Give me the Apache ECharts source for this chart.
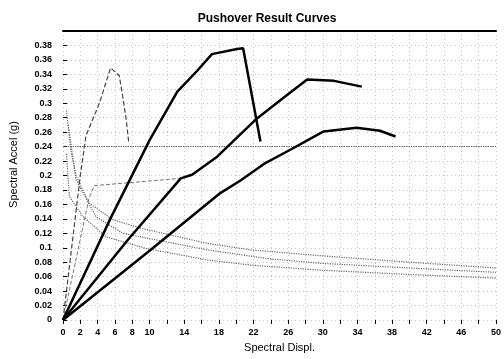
<!DOCTYPE html>
<html>
<head>
<meta charset="utf-8">
<script src="https://cdn.jsdelivr.net/npm/echarts@6/dist/echarts.min.js"></script>
<style>html,body{margin:0;padding:0;background:#fff}#c{width:504px;height:359px}</style>
</head>
<body>
<div id="c"></div>
<script>
// Thick capacity curves [displ, accel]
const curveA = [[0,0],[5.5,0.141],[7.8,0.196],[10,0.249],[13.2,0.316],[15.5,0.345],[17.2,0.368],[20.1,0.375],[20.8,0.376],[22.8,0.247]];
const curveB = [[0,0],[7.5,0.111],[13.6,0.196],[14.9,0.201],[17.8,0.226],[22.4,0.279],[25.5,0.308],[28.2,0.333],[31.3,0.331],[34.5,0.323]];
const curveC = [[0,0],[10.1,0.097],[18.2,0.176],[20.5,0.193],[23.2,0.216],[26.3,0.236],[30.1,0.261],[33.9,0.266],[36.6,0.262],[38.4,0.254]];
// Thin dashed capacity curves
const curveD = [[0,0],[1.2,0.12],[2,0.2],[2.65,0.255],[4.2,0.30],[5.5,0.349],[6.5,0.338],[6.9,0.309],[7.3,0.277],[7.6,0.245]];
const curveE = [[0,0],[3.0,0.168],[3.6,0.186],[9.6,0.192],[13.6,0.196]];
// Demand spectra
const demand1 = [[0.4,0.29],[0.9,0.235],[1.5,0.2],[3,0.162],[5.7,0.139],[9,0.127],[16.7,0.106],[21.7,0.097],[29.7,0.089],[40,0.08],[50,0.072]];
const demand2 = [[0.6,0.27],[1.5,0.194],[3.8,0.143],[6.9,0.12],[9,0.115],[16.7,0.097],[23.6,0.085],[29.7,0.0785],[40,0.072],[50,0.066]];
const demand3 = [[0.4,0.23],[0.73,0.171],[2.3,0.143],[5,0.115],[7.6,0.106],[9.6,0.099],[16.7,0.083],[21.7,0.076],[29.7,0.069],[40,0.063],[50,0.058]];
const refLevel = 0.24;
const xTicks = {min:0, max:50, interval:2};
const yTicks = {min:0, max:0.4, interval:0.02};

const chart = echarts.init(document.getElementById('c'), null, {renderer:'canvas'});
const font = 'Liberation Sans, Arial, sans-serif';
function thick(d){return {type:'line',data:d,showSymbol:false,symbol:'none',lineStyle:{color:'#000',width:2.5},z:5};}
function thin(d,col,type,w){return {type:'line',data:d,showSymbol:false,symbol:'none',lineStyle:{color:col,width:w||1,type:type},z:3};}
chart.setOption({
  animation:false,
  title:{text:'Pushover Result Curves',left:262,top:8,textAlign:'center',textStyle:{fontFamily:font,fontSize:12,fontWeight:'bold',color:'#000'}},
  grid:{left:62,right:7,top:31,bottom:39},
  xAxis:[{
    type:'value',min:xTicks.min,max:xTicks.max,interval:xTicks.interval,
    name:'Spectral Displ.',nameLocation:'middle',nameGap:22,
    nameTextStyle:{fontFamily:font,fontSize:11,color:'#000'},
    axisLine:{show:false},
    axisTick:{show:true,length:4,lineStyle:{color:'#000',width:1}},
    axisLabel:{fontFamily:font,fontSize:9,fontWeight:'bold',color:'#000',margin:8,
      formatter:v=>(v<=10||(v-10)%4===0)?String(v):''},
    splitLine:{show:true,lineStyle:{color:'#c4c4c4',type:[1,3],width:1}}
  },{
    type:'value',position:'top',min:xTicks.min,max:xTicks.max,
    axisLine:{show:true,lineStyle:{color:'#000',width:2}},
    axisTick:{show:false},axisLabel:{show:false},splitLine:{show:false}
  }],
  yAxis:{
    type:'value',min:yTicks.min,max:yTicks.max,interval:yTicks.interval,
    name:'Spectral Accel (g)',nameLocation:'middle',nameGap:44,
    nameTextStyle:{fontFamily:font,fontSize:11,color:'#000',padding:[0,0,0,22]},
    axisLine:{show:false},
    axisTick:{show:true,inside:true,length:4,lineStyle:{color:'#000',width:1}},
    axisLabel:{fontFamily:font,fontSize:9,fontWeight:'bold',color:'#000',margin:11,
      formatter:v=>v>0.39?'':String(+v.toFixed(2))},
    splitLine:{show:true,lineStyle:{color:'#c4c4c4',type:[1,3],width:1}}
  },
  series:[
    Object.assign(thin(demand1,'#666','dotted',1.2),{markLine:{silent:true,symbol:'none',label:{show:false},
      lineStyle:{color:'#555',type:'dotted',width:1.2},data:[{yAxis:refLevel}]}}),
    thin(demand2,'#666','dotted',1.2),
    thin(demand3,'#666','dotted',1.2),
    thin(curveD,'#444','dashed',1.2),
    thin(curveE,'#777','dashed',1),
    thick(curveA),
    thick(curveB),
    thick(curveC)
  ]
});
</script>
</body>
</html>
